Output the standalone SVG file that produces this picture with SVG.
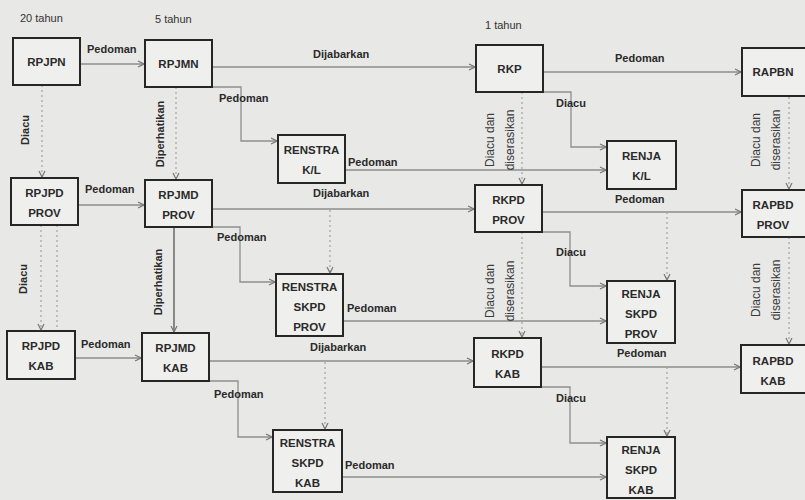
<svg xmlns="http://www.w3.org/2000/svg" width="805" height="500" viewBox="0 0 805 500">
<defs>
<style>
.bg{fill:#e8e8e6}
.box{fill:#efefed;stroke:#262626;stroke-width:2}
.bt{font-family:"Liberation Sans",Arial,sans-serif;font-weight:bold;font-size:11.5px;fill:#2a2a2a;text-anchor:middle}
.lb{font-family:"Liberation Sans",Arial,sans-serif;font-weight:bold;font-size:11px;fill:#2a2a2a}
.lr{font-family:"Liberation Sans",Arial,sans-serif;font-size:12px;fill:#3a3a3a;text-anchor:middle}
.hd{font-family:"Liberation Sans",Arial,sans-serif;font-size:11px;fill:#333}
.ln{fill:none;stroke:#8e8e8e;stroke-width:1.3}
.dt{fill:none;stroke:#a2a2a2;stroke-width:1.2;stroke-dasharray:2 3}
.dk{fill:none;stroke:#555;stroke-width:1.3}
</style>
<marker id="ah" viewBox="0 0 8 8" refX="7" refY="4" markerWidth="8" markerHeight="8" markerUnits="userSpaceOnUse" orient="auto">
<path d="M1,1 L7,4 L1,7" fill="none" stroke="#777" stroke-width="1.2"/>
</marker>
</defs>
<rect class="bg" x="0" y="0" width="805" height="500"/>

<text class="hd" x="20" y="22">20 tahun</text>
<text class="hd" x="155" y="23">5 tahun</text>
<text class="hd" x="485" y="29">1 tahun</text>

<g id="connectors">
<path class="ln" d="M80,64 H144" marker-end="url(#ah)"/>
<path class="ln" d="M212,67 H475" marker-end="url(#ah)"/>
<path class="ln" d="M212,87 H241 V141 H277" marker-end="url(#ah)"/>
<path class="ln" d="M345,170 H606" marker-end="url(#ah)"/>
<path class="ln" d="M543,72 H741" marker-end="url(#ah)"/>
<path class="ln" d="M543,92 H571 V147 H606" marker-end="url(#ah)"/>
<path class="dt" d="M522,92 V184" marker-end="url(#ah)"/>
<path class="dt" d="M789,97 V189" marker-end="url(#ah)"/>
<path class="dt" d="M42,85 V177" marker-end="url(#ah)"/>
<path class="dt" d="M176,87 V179" marker-end="url(#ah)"/>
<path class="ln" d="M78,205 H144" marker-end="url(#ah)"/>
<path class="ln" d="M212,209 H474" marker-end="url(#ah)"/>
<path class="ln" d="M212,227 H240 V282 H275" marker-end="url(#ah)"/>
<path class="dt" d="M330,210 V273" marker-end="url(#ah)"/>
<path class="ln" d="M343,321 H606" marker-end="url(#ah)"/>
<path class="ln" d="M542,212 H741" marker-end="url(#ah)"/>
<path class="ln" d="M542,232 H570 V286 H606" marker-end="url(#ah)"/>
<path class="dt" d="M667,212 V280" marker-end="url(#ah)"/>
<path class="dt" d="M522,232 V337" marker-end="url(#ah)"/>
<path class="dt" d="M789,237 V344" marker-end="url(#ah)"/>
<path class="dt" d="M41,225 V330" marker-end="url(#ah)"/>
<path class="dt" d="M57,225 V330"/>
<path class="dk" d="M174,227 V332" marker-end="url(#ah)"/>
<path class="ln" d="M75,358 H141" marker-end="url(#ah)"/>
<path class="ln" d="M209,361 H473" marker-end="url(#ah)"/>
<path class="ln" d="M209,381 H238 V437 H272" marker-end="url(#ah)"/>
<path class="dt" d="M325,362 V429" marker-end="url(#ah)"/>
<path class="ln" d="M342,477 H606" marker-end="url(#ah)"/>
<path class="ln" d="M541,367 H740" marker-end="url(#ah)"/>
<path class="ln" d="M541,387 H570 V443 H606" marker-end="url(#ah)"/>
<path class="dt" d="M667,367 V436" marker-end="url(#ah)"/>
</g>

<g id="labels">
<text class="lb" x="87" y="53">Pedoman</text>
<text class="lb" x="313" y="58">Dijabarkan</text>
<text class="lb" x="219" y="102">Pedoman</text>
<text class="lb" x="348" y="166" font-size="11.5">Pedoman</text>
<text class="lb" x="615" y="62">Pedoman</text>
<text class="lb" x="556" y="107">Diacu</text>
<text class="lb" x="85" y="193">Pedoman</text>
<text class="lb" x="313" y="197">Dijabarkan</text>
<text class="lb" x="217" y="241">Pedoman</text>
<text class="lb" x="347" y="312" font-size="11.5">Pedoman</text>
<text class="lb" x="615" y="203">Pedoman</text>
<text class="lb" x="556" y="256">Diacu</text>
<text class="lb" x="81" y="348">Pedoman</text>
<text class="lb" x="310" y="351">Dijabarkan</text>
<text class="lb" x="214" y="398">Pedoman</text>
<text class="lb" x="345" y="469" font-size="11.5">Pedoman</text>
<text class="lb" x="617" y="357">Pedoman</text>
<text class="lb" x="556" y="402">Diacu</text>
<text class="lb" transform="translate(29,130) rotate(-90)" text-anchor="middle">Diacu</text>
<text class="lb" transform="translate(27,279) rotate(-90)" text-anchor="middle">Diacu</text>
<text class="lb" transform="translate(164,134) rotate(-90)" text-anchor="middle" font-size="12.5">Diperhatikan</text>
<text class="lb" transform="translate(162,282) rotate(-90)" text-anchor="middle" font-size="12.5">Diperhatikan</text>
<text class="lr" transform="translate(494,140) rotate(-90)">Diacu dan</text>
<text class="lr" transform="translate(514,140) rotate(-90)">diserasikan</text>
<text class="lr" transform="translate(494,291) rotate(-90)">Diacu dan</text>
<text class="lr" transform="translate(514,291) rotate(-90)">diserasikan</text>
<text class="lr" transform="translate(760,140) rotate(-90)">Diacu dan</text>
<text class="lr" transform="translate(780,140) rotate(-90)">diserasikan</text>
<text class="lr" transform="translate(760,290) rotate(-90)">Diacu dan</text>
<text class="lr" transform="translate(780,290) rotate(-90)">diserasikan</text>
</g>

<g id="RPJPN"><rect class="box" x="13" y="38" width="67" height="47"/><text class="bt" x="46.5" y="65.5">RPJPN</text></g>
<g id="RPJMN"><rect class="box" x="145" y="40" width="67" height="47"/><text class="bt" x="178.5" y="67.5">RPJMN</text></g>
<g id="RKP"><rect class="box" x="476" y="45" width="67" height="47"/><text class="bt" x="509.5" y="72.5">RKP</text></g>
<g id="RAPBN"><rect class="box" x="742" y="48" width="70" height="48"/><text class="bt" x="773" y="76">RAPBN</text></g>
<g id="RENSTRA_KL"><rect class="box" x="278" y="135" width="67" height="48"/><text class="bt" x="311.5" y="154">RENSTRA</text><text class="bt" x="311.5" y="174">K/L</text></g>
<g id="RENJA_KL"><rect class="box" x="607" y="141" width="69" height="48"/><text class="bt" x="641.5" y="160">RENJA</text><text class="bt" x="641.5" y="180">K/L</text></g>
<g id="RPJPD_PROV"><rect class="box" x="11" y="178" width="67" height="47"/><text class="bt" x="44.5" y="197">RPJPD</text><text class="bt" x="44.5" y="217">PROV</text></g>
<g id="RPJMD_PROV"><rect class="box" x="145" y="180" width="67" height="47"/><text class="bt" x="178.5" y="199">RPJMD</text><text class="bt" x="178.5" y="219">PROV</text></g>
<g id="RKPD_PROV"><rect class="box" x="475" y="185" width="67" height="47"/><text class="bt" x="508.5" y="204">RKPD</text><text class="bt" x="508.5" y="224">PROV</text></g>
<g id="RAPBD_PROV"><rect class="box" x="742" y="190" width="70" height="47"/><text class="bt" x="773" y="209">RAPBD</text><text class="bt" x="773" y="229">PROV</text></g>
<g id="RENSTRA_SKPD_PROV"><rect class="box" x="276" y="274" width="67" height="62"/><text class="bt" x="309.5" y="291">RENSTRA</text><text class="bt" x="309.5" y="311">SKPD</text><text class="bt" x="309.5" y="331">PROV</text></g>
<g id="RENJA_SKPD_PROV"><rect class="box" x="607" y="281" width="68" height="62"/><text class="bt" x="641" y="298">RENJA</text><text class="bt" x="641" y="318">SKPD</text><text class="bt" x="641" y="338">PROV</text></g>
<g id="RPJPD_KAB"><rect class="box" x="7" y="331" width="68" height="48"/><text class="bt" x="41" y="350">RPJPD</text><text class="bt" x="41" y="370">KAB</text></g>
<g id="RPJMD_KAB"><rect class="box" x="142" y="333" width="67" height="48"/><text class="bt" x="175.5" y="352">RPJMD</text><text class="bt" x="175.5" y="372">KAB</text></g>
<g id="RKPD_KAB"><rect class="box" x="474" y="338" width="67" height="49"/><text class="bt" x="507.5" y="358">RKPD</text><text class="bt" x="507.5" y="378">KAB</text></g>
<g id="RAPBD_KAB"><rect class="box" x="741" y="345" width="70" height="48"/><text class="bt" x="773" y="365">RAPBD</text><text class="bt" x="773" y="385">KAB</text></g>
<g id="RENSTRA_SKPD_KAB"><rect class="box" x="273" y="430" width="69" height="62"/><text class="bt" x="307.5" y="447">RENSTRA</text><text class="bt" x="307.5" y="467">SKPD</text><text class="bt" x="307.5" y="487">KAB</text></g>
<g id="RENJA_SKPD_KAB"><rect class="box" x="607" y="437" width="68" height="61"/><text class="bt" x="641" y="454">RENJA</text><text class="bt" x="641" y="474">SKPD</text><text class="bt" x="641" y="494">KAB</text></g>
</svg>
